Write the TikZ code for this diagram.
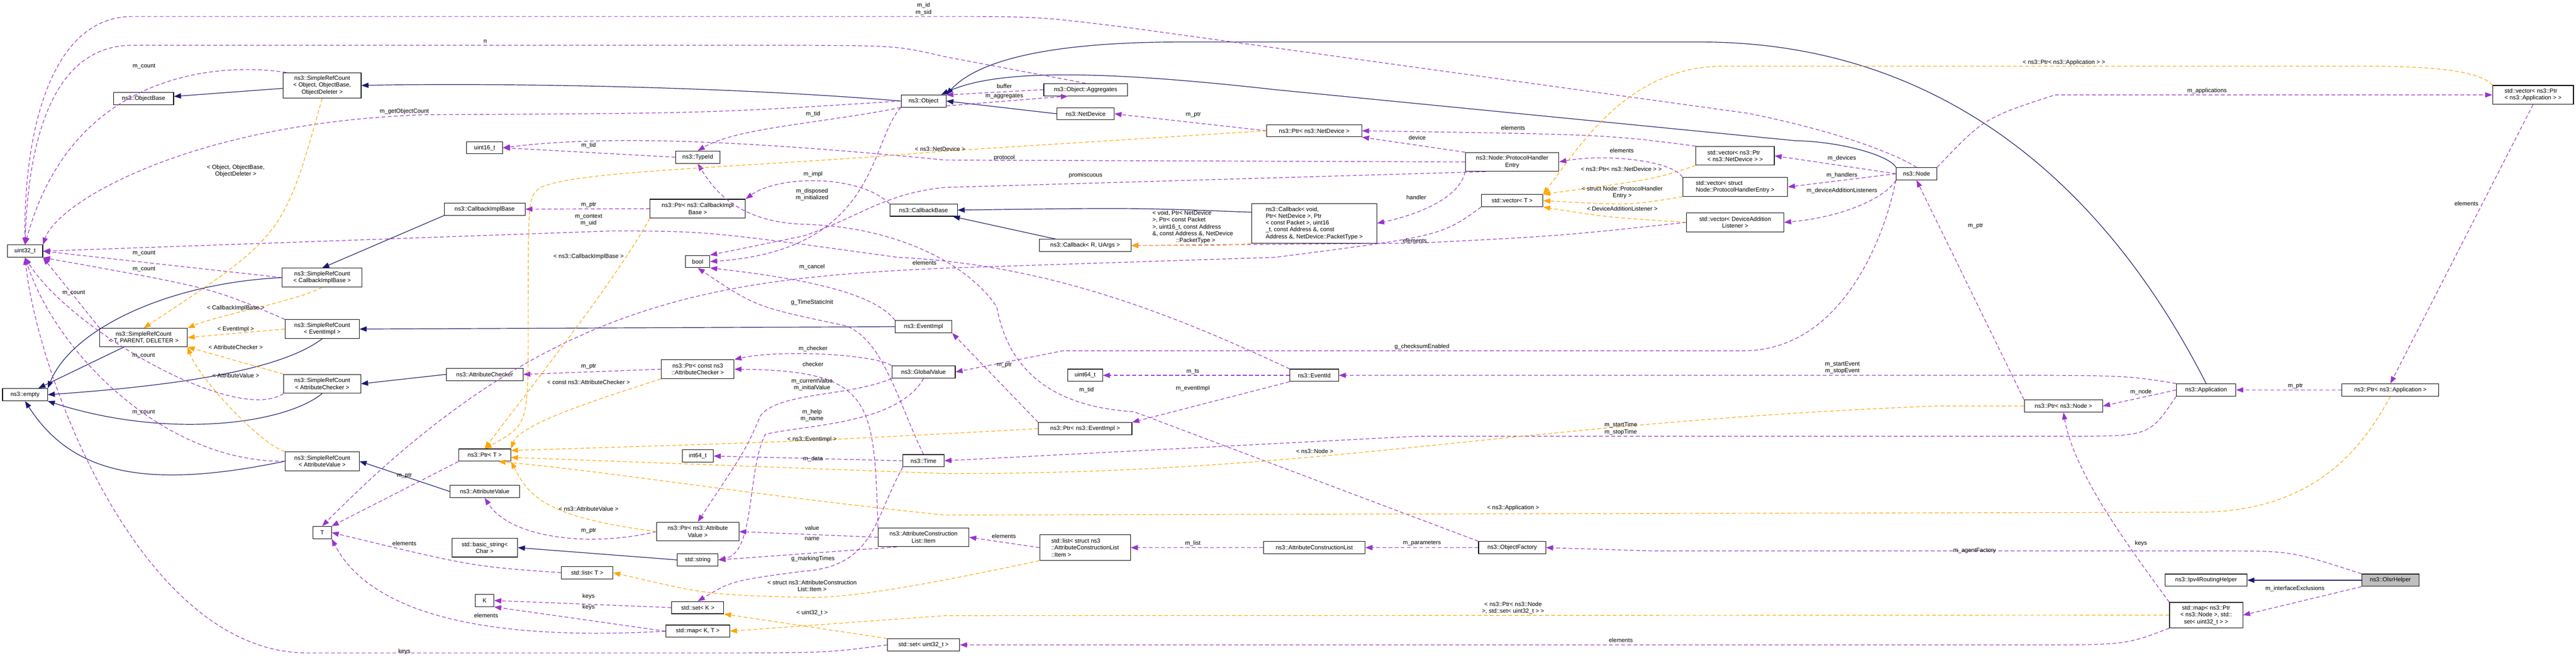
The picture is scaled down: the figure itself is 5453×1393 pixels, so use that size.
\documentclass[tikz,border=0pt]{standalone}
\usepackage{fontspec}
\setmainfont{Liberation Sans}
\usetikzlibrary{arrows.meta}
\definecolor{purp}{HTML}{9A32CD}
\definecolor{orng}{HTML}{FFA500}
\definecolor{navyc}{HTML}{191970}
\newcommand\lbf{\fontsize{12.5}{14.5}\selectfont}
\newcommand\bx[6]{\node[box,minimum width=#4pt,minimum height=#5pt] (#1) at (#2,#3) {#6};}
\newcommand\bxl[6]{\node[box,align=left,minimum width=#4pt,minimum height=#5pt] (#1) at (#2,#3) {#6};}
\newcommand\lb[4]{\node[lbl] (#1) at (#2,#3) {#4};}
\tikzset{
 box/.style={draw=black,line width=1.2pt,inner sep=2pt,align=center,font=\lbf,fill=white},
 lbl/.style={inner sep=0pt,align=center,font=\lbf},
 inhE/.style={draw=navyc,line width=1.3pt,-{Triangle[length=15pt,width=11pt]},fill=none},
 useE/.style={draw=purp,line width=1.3pt,dash pattern=on 8pt off 5pt,-{Triangle[length=15pt,width=11pt,fill=purp]}},
 tplE/.style={draw=orng,line width=1.3pt,dash pattern=on 8pt off 5pt,-{Triangle[length=15pt,width=11pt,fill=orng]}},
}
\begin{document}
\begin{tikzpicture}[x=1pt,y=-1pt]
\useasboundingbox[fill=white] (0,0) rectangle (5453,1393);
% nodes
\bx{u32}{53}{532}{75}{26}{uint32\_t}
\bx{objbase}{304}{209}{127}{26}{ns3::ObjectBase}
\bx{srcobj}{682}{181}{165}{54}{ns3::SimpleRefCount\\< Object, ObjectBase,\\ObjectDeleter >}
\bx{srccib}{682}{588}{169}{40}{ns3::SimpleRefCount\\< CallbackImplBase >}
\bx{cib}{1026}{443}{171}{26}{ns3::CallbackImplBase}
\bx{srct}{304}{715}{185}{39}{ns3::SimpleRefCount\\< T, PARENT, DELETER >}
\bx{srcev}{682}{697}{157}{40}{ns3::SimpleRefCount\\< EventImpl >}
\bx{empty}{53}{836}{95}{26}{ns3::empty}
\bx{srcac}{682}{813}{163}{40}{ns3::SimpleRefCount\\< AttributeChecker >}
\bx{srcav}{682}{977}{157}{40}{ns3::SimpleRefCount\\< AttributeValue >}
\bx{T}{682}{1128}{39}{26}{T}
\bx{ac}{1026}{793}{162}{26}{ns3::AttributeChecker}
\bx{av}{1026}{1041}{147}{26}{ns3::AttributeValue}
\bx{bstr}{1026}{1160}{139}{40}{std::basic\_string<\\ Char >}
\bx{u16}{1026}{313}{76}{26}{uint16\_t}
\bx{object}{1955}{214}{95}{26}{ns3::Object}
\bx{typeid}{1477}{333}{94}{26}{ns3::TypeId}
\bx{pcib}{1477}{442}{202}{40}{ns3::Ptr< ns3::CallbackImpl\\Base >}
\bx{bool}{1477}{554}{51}{26}{bool}
\bx{cbase}{1955}{445}{143}{26}{ns3::CallbackBase}
\bx{evimpl}{1955}{692}{120}{26}{ns3::EventImpl}
\bx{pcac}{1477}{782}{154}{40}{ns3::Ptr< const ns3\\::AttributeChecker >}
\bx{gv}{1955}{788}{134}{26}{ns3::GlobalValue}
\bx{ptrt}{1026}{964}{110}{26}{ns3::Ptr< T >}
\bx{i64}{1477}{966}{66}{26}{int64\_t}
\bx{time}{1955}{976}{87}{26}{ns3::Time}
\bx{pav}{1477}{1126}{174}{40}{ns3::Ptr< ns3::Attribute\\Value >}
\bx{item}{1955}{1138}{192}{40}{ns3::AttributeConstruction\\List::Item}
\bx{str}{1477}{1186}{86}{26}{std::string}
\bx{listT}{1243}{1213}{109}{26}{std::list< T >}
\bx{K}{1026}{1272}{39}{26}{K}
\bx{setK}{1477}{1287}{110}{26}{std::set< K >}
\bx{mapKT}{1477}{1337}{135}{26}{std::map< K, T >}
\bx{setu32}{1955}{1366}{153}{26}{std::set< uint32\_t >}
\bx{agg}{2298}{190}{177}{26}{ns3::Object::Aggregates}
\bx{netdev}{2298}{241}{121}{26}{ns3::NetDevice}
\bx{pnd}{2782}{277}{201}{26}{ns3::Ptr< ns3::NetDevice >}
\bxl{cbvoid}{2782}{473}{265}{84}{ns3::Callback< void,\\ Ptr< NetDevice >, Ptr\\< const Packet >, uint16\\\_t, const Address \&, const\\ Address \&, NetDevice::PacketType >}
\bx{cbR}{2297}{520}{194}{26}{ns3::Callback< R, UArgs >}
\bx{pev}{2297}{908}{198}{26}{ns3::Ptr< ns3::EventImpl >}
\bx{u64}{2297}{795}{74}{26}{uint64\_t}
\bx{evid}{2782}{795}{103}{26}{ns3::EventId}
\bxl{listitem}{2297}{1160}{192}{54}{std::list< struct ns3\\::AttributeConstructionList\\::Item >}
\bx{acl}{2782}{1160}{215}{26}{ns3::AttributeConstructionList}
\bx{phe}{3201}{343}{198}{40}{ns3::Node::ProtocolHandler\\Entry}
\bx{vecT}{3201}{425}{130}{26}{std::vector< T >}
\bxl{vpnd}{3673}{330}{166}{40}{std::vector< ns3::Ptr\\< ns3::NetDevice > >}
\bxl{vphe}{3673}{396}{222}{40}{std::vector< struct\\ Node::ProtocolHandlerEntry >}
\bx{vdal}{3673}{471}{206}{40}{std::vector< DeviceAddition\\Listener >}
\bx{ofac}{3201}{1160}{142}{26}{ns3::ObjectFactory}
\bx{node}{4057}{368}{86}{26}{ns3::Node}
\bxl{vpapp}{5362}{201}{171}{40}{std::vector< ns3::Ptr\\< ns3::Application > >}
\bx{app}{4670}{826}{126}{26}{ns3::Application}
\bx{pnode}{4368}{860}{166}{26}{ns3::Ptr< ns3::Node >}
\bx{papp}{5060}{826}{205}{26}{ns3::Ptr< ns3::Application >}
\bx{ipv4}{4670}{1229}{173}{26}{ns3::Ipv4RoutingHelper}
\node[box,fill=black!25,minimum width=121pt,minimum height=26pt] (olsr) at (5060,1229) {ns3::OlsrHelper};
\bx{mapnode}{4670}{1303}{155}{54}{std::map< ns3::Ptr\\< ns3::Node >, std::\\set< uint32\_t > >}
% inheritance
\draw[inhE] (srcobj) -- (objbase);
\draw[inhE] (object.west) .. controls (1500,180) and (1000,176) .. (srcobj.east);
\draw[inhE] (srccib.west) .. controls (350,600) and (150,700) .. (empty.north east);
\draw[inhE] (cib.south west) -- (srccib.north);
\draw[inhE] (srct) -- (empty);
\draw[inhE] (srcev.south) .. controls (600,780) and (400,815) .. (empty.east);
\draw[inhE] (evimpl.west) -- (srcev.east);
\draw[inhE] (srcac.south) .. controls (600,900) and (350,930) .. (empty.south east);
\draw[inhE] (ac.west) -- (srcac.east);
\draw[inhE] (srcav.west) .. controls (300,1040) and (150,1000) .. (empty.south);
\draw[inhE] (av.west) -- (srcav.east);
\draw[inhE] (str.west) -- (bstr.east);
\draw[inhE] (app.north) .. controls (4450,380) and (4100,89) .. (3600,89) -- (2500,89) .. controls (2150,89) and (2050,150) .. (object.north east);
\draw[inhE] (node.north west) .. controls (4000,330) and (3900,300) .. (3800,298) -- (2700,190) .. controls (2300,145) and (2100,150) .. (object.20);
\draw[inhE] (netdev.west) -- (object.east);
\draw[inhE] (cbvoid.170) .. controls (2400,440) .. (cbase.east);
\draw[inhE] (cbR) -- (cbase);
\draw[inhE] (olsr.west) -- (ipv4.east);
% usage
\draw[useE] (node.north) .. controls (4020,330) and (3900,280) .. (3700,240) -- (2400,60) .. controls (2200,35) .. (2000,35) -- (280,35) .. controls (100,35) and (50,300) .. (u32.north);
\draw[useE] (agg.north) -- (2000,120) .. controls (1900,97) .. (1700,96) -- (280,96) .. controls (110,96) and (60,300) .. (u32.north);
\draw[useE] (srcobj.160) .. controls (450,130) and (150,160) .. (u32.north);
\draw[useE] (object.west) .. controls (1500,240) .. (900,243) .. controls (400,260) and (120,430) .. (u32.north east);
\draw[useE] (evid.north west) .. controls (2450,650) and (2200,560) .. (1900,545) .. controls (1500,490) .. (1300,489) -- (u32.east);
\draw[useE] (srccib.west) -- (u32.east);
\draw[useE] (srcev.north west) .. controls (450,610) .. (u32.south east);
\draw[useE] (srct.north west) -- (u32.south east);
\draw[useE] (srcac.south west) .. controls (500,900) and (150,700) .. (u32.south);
\draw[useE] (srcav.west) .. controls (350,980) and (120,750) .. (u32.south);
\draw[useE] (setu32.west) .. controls (1750,1383) .. (1500,1383) -- (650,1383) .. controls (300,1383) and (80,800) .. (u32.south);
\draw[useE] (typeid.west) -- (u16.east);
\draw[useE] (phe.west) -- (2000,339) .. controls (1500,290) and (1250,290) .. (u16.east);
\draw[useE] (object.south west) .. controls (1750,260) and (1560,270) .. (typeid.north);
\draw[useE] (object.south west) .. controls (1840,300) and (1860,530) .. (bool.east);
\draw[useE] (phe.200) -- (2000,397) .. controls (1870,410) and (1820,460) .. (1700,500) -- (bool.north east);
\draw[useE] (cbase.north west) .. controls (1820,370) and (1650,370) .. (pcib.north east);
\draw[useE] (pcib.west) -- (cib.east);
\draw[useE] (evimpl.north west) .. controls (1850,620) and (1700,590) .. (bool.south east);
\draw[useE] (time.north) .. controls (1900,850) and (1870,720) .. (1790,690) .. controls (1600,650) .. (bool.south);
\draw[useE] (agg.west) -- (object.15);
\draw[useE] (object.-12) -- (agg.200);
\draw[useE] (pnd.west) -- (netdev.east);
\draw[useE] (pcac.west) -- (ac.east);
\draw[useE] (pav.west) .. controls (1250,1160) and (1080,1140) .. (av.south);
\draw[useE] (ptrt.south west) -- (T.north east);
\draw[useE] (listT.west) .. controls (1000,1200) .. (T.east);
\draw[useE] (mapKT.west) .. controls (1000,1360) and (780,1290) .. (T.south east);
\draw[useE] (vecT.south west) .. controls (3050,500) .. (2700,545) -- (2000,568) .. controls (1500,590) and (1150,640) .. (T.north);
\draw[useE] (setK.west) -- (K.east);
\draw[useE] (mapKT.west) -- (K.south east);
\draw[useE] (item.west) -- (pav.east);
\draw[useE] (item.200) -- (str.east);
\draw[useE] (item.north west) .. controls (1850,850) and (1850,785) .. (pcac.east);
\draw[useE] (gv.north west) .. controls (1850,750) and (1650,740) .. (pcac.north east);
\draw[useE] (gv.south west) .. controls (1800,840) and (1650,830) .. (1610,880) .. controls (1580,950) .. (pav.north);
\draw[useE] (gv.south) .. controls (1900,900) and (1700,900) .. (1620,920) .. controls (1580,1000) and (1600,1170) .. (str.east);
\draw[useE] (time.west) -- (i64.east);
\draw[useE] (time.south west) .. controls (1850,1100) and (1850,1200) .. (1700,1210) .. controls (1550,1230) .. (setK.north);
\draw[useE] (evid.west) -- (u64.east);
\draw[useE] (evid.south west) -- (pev.north east);
\draw[useE] (pev.north west) -- (evimpl.south east);
\draw[useE] (ofac.north west) -- (2400,872) .. controls (2200,860) and (2130,760) .. (2110,650) .. controls (2050,560) and (1900,480) .. (1700,475) .. controls (1560,470) and (1510,400) .. (typeid.south);
\draw[useE] (app.north west) .. controls (4500,795) .. (4200,795) -- (evid.east);
\draw[useE] (app.south west) .. controls (4550,924) .. (4380,924) -- (3000,924) -- (time.east);
\draw[useE] (app.west) -- (pnode.east);
\draw[useE] (papp.west) -- (app.east);
\draw[useE] (node.north east) .. controls (4200,250) .. (4350,201) -- (vpapp.west);
\draw[useE] (vpapp.south) -- (papp.north);
\draw[useE] (pnode.north west) -- (node.south);
\draw[useE] (mapnode.north west) .. controls (4500,1150) and (4390,1000) .. (pnode.south);
\draw[useE] (olsr.south west) -- (mapnode.east);
\draw[useE] (olsr.north west) .. controls (4850,1167) .. (4700,1167) -- (3500,1167) -- (ofac.east);
\draw[useE] (ofac.west) -- (acl.east);
\draw[useE] (acl.west) -- (listitem.east);
\draw[useE] (listitem.west) -- (item.east);
\draw[useE] (mapnode.south west) .. controls (4500,1366) .. (4300,1366) -- (setu32.east);
\draw[useE] (node.south west) .. controls (3990,500) and (3900,743) .. (3690,743) -- (2250,743) -- (gv.east);
\draw[useE] (node.west) -- (vpnd.east);
\draw[useE] (node.west) -- (vphe.east);
\draw[useE] (node.south west) .. controls (3990,420) and (3900,460) .. (vdal.east);
\draw[useE] (vpnd.north west) .. controls (3400,285) .. (pnd.east);
\draw[useE] (vphe.north west) .. controls (3540,340) and (3400,325) .. (phe.east);
\draw[useE] (phe.north west) -- (pnd.south east);
\draw[useE] (phe.south west) .. controls (3090,420) and (3000,455) .. (cbvoid.east);
\draw[useE] (vdal.west) .. controls (3300,500) .. (3000,515) -- (cbR.east);
% templates
\draw[tplE] (srcobj.south) .. controls (600,500) .. (srct.north);
\draw[tplE] (srccib.south) .. controls (620,640) and (470,665) .. (srct.north east);
\draw[tplE] (srcev.west) -- (srct.east);
\draw[tplE] (srcac.north west) -- (srct.south east);
\draw[tplE] (srcav.north west) .. controls (550,940) and (420,800) .. (srct.south east);
\draw[tplE] (pnd.west) -- (2000,320) .. controls (1600,355) and (1200,360) .. (1140,400) .. controls (1118,420) .. (1118,700) .. controls (1118,900) .. (ptrt.north);
\draw[tplE] (pcib.south west) .. controls (1300,600) and (1100,850) .. (ptrt.north);
\draw[tplE] (pcac.south west) .. controls (1250,850) and (1100,900) .. (ptrt.north east);
\draw[tplE] (pev.west) .. controls (1700,935) .. (ptrt.10);
\draw[tplE] (pnode.west) -- (4100,860) .. controls (3200,895) and (2800,1005) .. (2000,1003) -- (ptrt.-5);
\draw[tplE] (pav.west) .. controls (1150,1095) and (1120,1050) .. (ptrt.south east);
\draw[tplE] (papp.south) .. controls (5000,950) and (4900,1085) .. (4650,1085) -- (2000,1091) .. controls (1600,1050) and (1300,1000) .. (ptrt.-25);
\draw[tplE] (cbvoid.south west) .. controls (2600,520) .. (cbR.east);
\draw[tplE] (vpnd.south west) .. controls (3500,380) .. (vecT.north east);
\draw[tplE] (vphe.south west) .. controls (3450,435) .. (vecT.east);
\draw[tplE] (vdal.west) .. controls (3400,460) .. (vecT.south east);
\draw[tplE] (vpapp.north west) .. controls (5250,150) and (5150,140) .. (5000,140) -- (3650,140) .. controls (3450,140) and (3350,300) .. (vecT.north east);
\draw[tplE] (listitem.south west) .. controls (2000,1230) and (1800,1270) .. (1700,1265) .. controls (1500,1260) .. (listT.east);
\draw[tplE] (setu32.north west) -- (setK.south east);
\draw[tplE] (mapnode.west) -- (2000,1304) -- (mapKT.east);
% labels
\lb{l1}{1955}{19}{m\_id\\m\_sid}
\lb{l2}{1027}{88}{n}
\lb{l3}{305}{141}{m\_count}
\lb{l4}{856}{236}{m\_getObjectCount}
\lb{l5}{305}{536}{m\_count}
\lb{l6}{305}{570}{m\_count}
\lb{l7}{156}{620}{m\_count}
\lb{l8}{304}{754}{m\_count}
\lb{l9}{304}{873}{m\_count}
\lb{l10}{856}{1380}{keys}
\lb{l11}{856}{1151}{elements}
\lb{l12}{1246}{308}{m\_tid}
\lb{l13}{1721}{242}{m\_tid}
\lb{l14}{1721}{369}{m\_impl}
\lb{l15}{1719}{412}{m\_disposed\\m\_initialized}
\lb{l16}{1246}{434}{m\_ptr}
\lb{l17}{1246}{466}{m\_context\\m\_uid}
\lb{l18}{1957}{557}{elements}
\lb{l19}{1719}{565}{m\_cancel}
\lb{l20}{1719}{641}{g\_TimeStaticInit}
\lb{l21}{1721}{739}{m\_checker}
\lb{l22}{1721}{772}{checker}
\lb{l23}{1719}{815}{m\_currentValue\\m\_initialValue}
\lb{l24}{1719}{880}{m\_help\\m\_name}
\lb{l25}{1246}{777}{m\_ptr}
\lb{l26}{1721}{972}{m\_data}
\lb{l27}{1246}{1124}{m\_ptr}
\lb{l28}{1719}{1118}{value}
\lb{l29}{1719}{1141}{name}
\lb{l30}{1721}{1184}{g\_markingTimes}
\lb{l31}{1246}{1264}{keys}
\lb{l32}{1246}{1286}{keys}
\lb{l33}{1029}{1304}{elements}
\lb{l34}{856}{1008}{m\_ptr}
\lb{l35}{2126}{183}{buffer}
\lb{l36}{2126}{204}{m\_aggregates}
\lb{l37}{2526}{243}{m\_ptr}
\lb{l38}{2126}{334}{protocol}
\lb{l39}{2298}{371}{promiscuous}
\lb{l40}{3000}{292}{device}
\lb{l41}{2998}{418}{handler}
\lb{l42}{2995}{510}{elements}
\lb{l43}{3203}{271}{elements}
\lb{l44}{3433}{319}{elements}
\lb{l45}{3899}{335}{m\_devices}
\lb{l46}{3899}{371}{m\_handlers}
\lb{l47}{3899}{404}{m\_deviceAdditionListeners}
\lb{l48}{3010}{735}{g\_checksumEnabled}
\lb{l49}{2126}{773}{m\_ptr}
\lb{l50}{2525}{787}{m\_ts}
\lb{l51}{2300}{826}{m\_tid}
\lb{l52}{2525}{823}{m\_eventImpl}
\lb{l53}{2125}{1136}{elements}
\lb{l54}{2525}{1151}{m\_list}
\lb{l55}{3010}{1151}{m\_parameters}
\lb{l56}{3900}{779}{m\_startEvent\\m\_stopEvent}
\lb{l57}{3431}{908}{m\_startTime\\m\_stopTime}
\lb{l58}{4180}{1167}{m\_agentFactory}
\lb{l59}{3431}{1356}{elements}
\lb{l60}{4672}{193}{m\_applications}
\lb{l61}{5221}{431}{elements}
\lb{l62}{4182}{479}{m\_ptr}
\lb{l63}{4532}{831}{m\_node}
\lb{l64}{4859}{818}{m\_ptr}
\lb{l65}{4532}{1151}{keys}
\lb{l66}{4858}{1247}{m\_interfaceExclusions}
\lb{o1}{499}{362}{< Object, ObjectBase,\\ObjectDeleter >}
\lb{o2}{499}{653}{< CallbackImplBase >}
\lb{o3}{499}{698}{< EventImpl >}
\lb{o4}{499}{736}{< AttributeChecker >}
\lb{o5}{499}{795}{< AttributeValue >}
\lb{o6}{1990}{316}{< ns3::NetDevice >}
\lb{o7}{1246}{544}{< ns3::CallbackImplBase >}
\lb{o8}{1246}{810}{< const ns3::AttributeChecker >}
\lb{o9}{1719}{931}{< ns3::EventImpl >}
\lb{o10}{1246}{1078}{< ns3::AttributeValue >}
\lb{o11}{1719}{1241}{< struct ns3::AttributeConstruction\\List::Item >}
\lb{o12}{1719}{1298}{< uint32\_t >}
\node[lbl,align=left] (o13) at (2525,481) {< void, Ptr< NetDevice\\>, Ptr< const Packet\\>, uint16\_t, const Address\\\&, const Address \&, NetDevice\\\hspace*{4em}::PacketType >};
\lb{o14}{2783}{956}{< ns3::Node >}
\lb{o15}{3432}{358}{< ns3::Ptr< ns3::NetDevice > >}
\lb{o16}{3434}{408}{< struct Node::ProtocolHandler\\Entry >}
\lb{o17}{3434}{442}{< DeviceAdditionListener >}
\lb{o18}{4369}{132}{< ns3::Ptr< ns3::Application > >}
\lb{o19}{3203}{1076}{< ns3::Application >}
\lb{o20}{3203}{1288}{< ns3::Ptr< ns3::Node\\>, std::set< uint32\_t > >}
\end{tikzpicture}
\end{document}
